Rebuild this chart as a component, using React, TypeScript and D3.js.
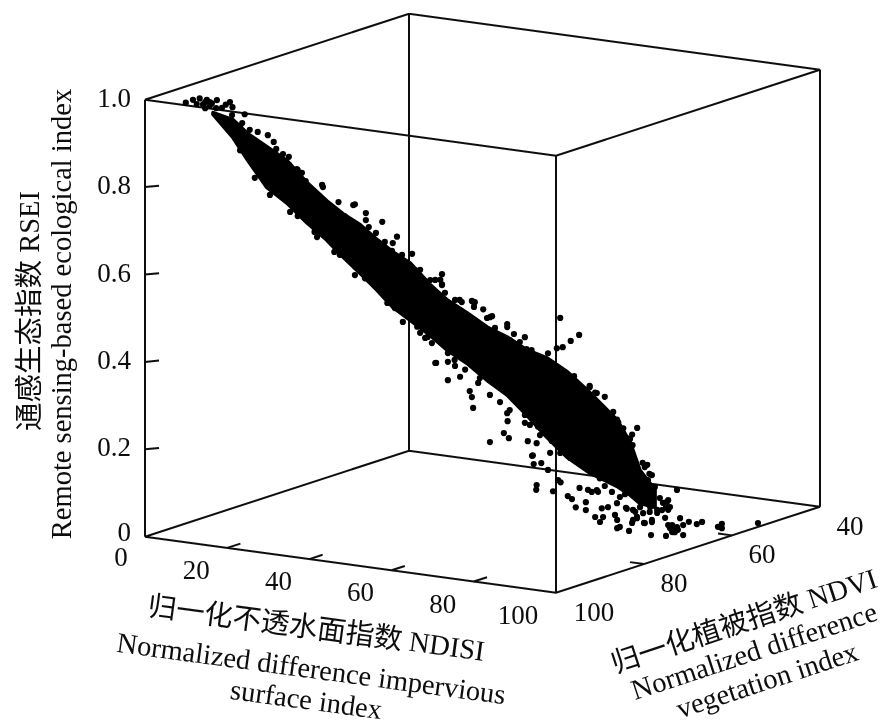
import React from "react";
import * as d3 from "d3";

// Axis ticks and labels
const ndisiTicks = [0, 20, 40, 60, 80, 100];
const ndviTicks = [100, 80, 60, 40];
const rseiTicks = [0, 0.2, 0.4, 0.6, 0.8, 1.0];
const rseiLabels = ["0", "0.2", "0.4", "0.6", "0.8", "1.0"];

// Dense core of the cloud (solid black in the picture): RSEI limits read at NDISI stations
const coreNdisi = [10.8, 13.9, 16.3, 19.3, 22.5, 25.7, 28.8, 31.4, 34.1, 36.8, 39.3, 42.0, 45.2, 47.9, 51.0, 54.2, 57.4, 60.5, 63.7, 66.9, 70.5, 74.8, 76.9, 78.4, 80.8];
const coreNdvi = [94.6, 93.05, 91.85, 90.35, 88.75, 87.15, 85.6, 84.3, 82.95, 81.6, 80.35, 79.0, 77.4, 76.05, 74.5, 72.9, 71.3, 69.75, 68.15, 66.55, 64.75, 62.6, 61.55, 60.8, 59.6];
const coreUpper = [0.966, 0.949, 0.916, 0.885, 0.852, 0.8, 0.758, 0.727, 0.701, 0.666, 0.637, 0.611, 0.56, 0.524, 0.494, 0.46, 0.436, 0.405, 0.386, 0.353, 0.304, 0.24, 0.187, 0.124, 0.078];
const coreLower = [0.963, 0.91, 0.856, 0.793, 0.756, 0.709, 0.669, 0.629, 0.591, 0.551, 0.511, 0.481, 0.445, 0.41, 0.379, 0.339, 0.304, 0.257, 0.205, 0.158, 0.121, 0.089, 0.068, 0.049, 0.039];

// Individually visible points on the fringe of the cloud: [NDISI, NDVI, RSEI]
const fringePoints: [number, number, number][] = [
  [6.5,96.8,.991],[8.7,95.7,1.0],[9.8,95.1,.996],[11.4,94.3,.995],[13.5,93.3,.99],[13.9,93.1,.978],[13.8,93.1,.96],[15.8,92.1,.961],
  [15.4,92.3,.941],[16.6,91.7,.925],[17.9,91.1,.92],[19.5,90.3,.912],[20.4,89.8,.896],[20.8,89.6,.88],[21.9,89.1,.868],[22.8,88.6,.861],
  [22.8,88.6,.843],[24.2,87.9,.83],[25.5,87.3,.805],[28.2,85.9,.79],[30.7,84.7,.755],[33.3,83.4,.749],[35,82.5,.728],[35,82.5,.712],
  [37.6,81.2,.707],[35.5,82.3,.696],[39.9,80,.672],[36.6,81.7,.682],[12.2,93.9,.977],[7.6,96.2,.997],[10.6,94.7,.988],[12.8,93.6,.984],
  [38.4,80.8,.521],[40.9,79.6,.477],[46,77,.381],[48,76,.341],[51.5,74.3,.315],[51.8,74.1,.301],[52,74,.276],[54.7,72.7,.305],
  [56.3,71.9,.288],[57.4,71.3,.262],[57.5,71.3,.244],[56.9,71.6,.217],[57.7,71.2,.205],[54.7,72.7,.197],[60.7,69.7,.197],[62.1,69,.192],
  [61.5,69.3,.164],[64.2,67.9,.169],[61.6,69.2,.144],[62.8,68.6,.146],[63.9,68.1,.13],[65.5,67.3,.106],[62.1,69,.096],[62,69,.085],
  [64.7,67.7,.081],[67,66.5,.069],[67.7,66.2,.062],[68.9,65.6,.087],[68.3,65.9,.043],[69.9,65.1,.054],[69.9,65.1,.036],[70.2,64.9,.082],
  [71.6,64.2,.081],
  [65.8,67.1,.477],[68.8,65.6,.437],[67.5,66.3,.424],[66.2,66.9,.41],[63.9,68.1,.397],[65.3,67.4,.408],[57.4,71.3,.466],[58.5,70.8,.443],
  [60.2,69.9,.435],[52,74,.519],[53.6,73.2,.501],[54.7,72.7,.483],[47.1,76.5,.561],[60.5,69.8,.408],[61.3,69.4,.405],[62.6,68.7,.382],
  [68,66,.343],[70.5,64.8,.317],[71.6,64.2,.303],[72.9,63.6,.294],[72.1,64,.271],[74.2,62.9,.259],[74.8,62.6,.241],[78,61,.221],
  [77.2,61.4,.206],[75.8,62.1,.221],[77.3,61.4,.182],[78.9,60.6,.141],[79.6,60.2,.136],[79.9,60,.115],[80.8,59.6,.085],[76.5,61.8,.198],[75,62.5,.235],
  [15.1,92.5,.879],[17.4,91.3,.815],[19.8,90.1,.775],[23,88.5,.735],[26.9,86.6,.688],[30.9,84.6,.634],[34.9,82.6,.579],[39.6,80.2,.509],
  [44.4,77.8,.439],[49.1,75.5,.387],[53.1,73.5,.344],[57.8,71.1,.269],[62.6,68.7,.21],[67.4,66.3,.156],[72.1,64,.108],[76.1,62,.07],
  [15.1,92.5,.934],[18.5,90.8,.883],[24.6,87.7,.808],[27.7,86.2,.765],[31.7,84.2,.722],[35.7,82.2,.671],[38.8,80.6,.631],[42.8,78.6,.595],
  [46,77,.571],[49.9,75.1,.524],[55.5,72.3,.458],[57.8,71.1,.429],[61.8,69.1,.394],[66.6,66.7,.339],[70.5,64.8,.299],
  [8.2,95.9,.987],[9.5,95.2,.991],[10.3,94.9,.991],[9.5,95.2,.977],[10.3,94.9,.982],[11.3,94.4,.977],[9.2,95.4,.986],
  [24.1,88,.833],[24.9,87.6,.824],[26.8,86.6,.779],[28.1,86,.795],[33,83.5,.747],[27.3,86.4,.676],[30,85,.641],[24.2,87.9,.725],
  [38,81,.661],[39.3,80.4,.658],[39.1,80.4,.64],[40.7,79.6,.63],[42.3,78.8,.632],[43.6,78.2,.595],[45.2,77.4,.571],[47.1,76.5,.584],
  [46.8,76.6,.571],[47.1,76.5,.559],[47.5,76.2,.541],[49.1,75.4,.524],[50.2,74.9,.519],[51.8,74.1,.521],[52.3,73.9,.518],[52.1,73.9,.507],
  [55,72.5,.485],[54.2,72.9,.481],[57.4,71.3,.459],[59.4,70.3,.424],[33.3,83.4,.587],[43.1,78.4,.465],[43.6,78.2,.451],[44.8,77.6,.441],
  [45.5,77.3,.427],[48,76,.403],[48,76,.383],[46.1,76.9,.381],[49.1,75.4,.373],[49.9,75,.348],[50.7,74.6,.364],[52.8,73.6,.333],
  [67.8,66.1,.327],[70.5,64.8,.32],[71.3,64.3,.304],[70.5,64.8,.283],[76.9,61.6,.196],[79.2,60.4,.131],[80.3,59.8,.112],[80.5,59.7,.083],
  [60.2,69.9,.257],[60.2,69.9,.239],[61,69.5,.234],[62.3,68.9,.23],[63.1,68.5,.215],[64.5,67.8,.196],[61.3,69.3,.163],[65.8,67.1,.168],
  [65.9,67.1,.101],[70.8,64.6,.077],[71.8,64.1,.077],[74,63,.076],[72.9,63.6,.09],[75.3,62.4,.064],[74.8,62.6,.05],
];

// Scattered low-RSEI points at the high-NDISI end: [NDISI, NDVI, RSEI]
const tailPoints: [number, number, number][] = [
  [97,88.3,.131],[97,87.2,.116],[97,86.8,.146],[97,85.4,.144],[97,83.8,.121],[97,83.3,.108],[97,82.7,.09],[97,83.3,.089],
  [97,80.6,.074],[97,81.3,.129],[97,79.7,.096],[97,78.8,.1],[97,77.2,.081],[97,75.6,.048],[97,75.4,.077],[97,72.2,.035],
  [97,71.3,.05],[97,70.6,.048],[97,69.7,.047],[97,70.2,.037],[97,68.3,.024],[97,69,.065],[97,67,.05],[97,65.2,.039],
  [97,64,.04],[97,60.4,.017],[97,59.5,.011],[97,59.5,.021],[100,54.1,.009],[97,77.4,.104],[97,75.9,.102],[97,78.1,.12],
  [97,79.7,.119],[97,72.9,.113],[97,71.3,.098],[97,72.4,.077],[97,74.2,.094],[97,70.8,.055],[97,71.7,.115],[97,73.6,.126],
  [97,72.2,.101],[97,69.5,.04],[97,70.8,.039],[97,69.7,.132],[97,72,.112],[97,76.3,.176],[97,76.3,.13],
  [97,86.5,.125],[97,81.1,.126],[97,79.2,.113],[97,78.8,.097],[97,79.9,.09],[97,77,.08],[97,75.4,.082],[97,74.2,.101],
  [97,75.8,.113],[97,68.3,.047],[97,71.7,.058],[97,73.1,.097],[97,71.7,.093],
];

const xTitle = ["归一化不透水面指数 NDISI", "Normalized difference impervious", "surface index"];
const yTitle = ["通感生态指数 RSEI", "Remote sensing-based ecological index"];
const vTitle = ["归一化植被指数 NDVI", "Normalized difference", "vegetation index"];

// Oblique 3D axes: each data axis is a d3 scale onto its pixel offset
const xToPx = d3.scaleLinear().domain([0, 100]).range([0, 411]);
const xToPy = d3.scaleLinear().domain([0, 100]).range([0, 56]);
const vToPx = d3.scaleLinear().domain([100, 40]).range([0, 264]);
const vToPy = d3.scaleLinear().domain([100, 40]).range([0, -86]);
const zToPy = d3.scaleLinear().domain([0, 1]).range([0, -437]);
const ORIGIN = [145, 536.7];
const project = (x: number, v: number, z: number): [number, number] => [
  ORIGIN[0] + xToPx(x) + vToPx(v),
  ORIGIN[1] + xToPy(x) + vToPy(v) + zToPy(z),
];

const FONT = "'Liberation Serif', 'Times New Roman', serif";
const CJK = "'Liberation Serif', 'Noto Sans CJK SC', serif";
const INK = "#0c0c0c";

export default function App() {
  const box: [number, number, number][][] = [
    [[0,100,0],[100,100,0],[100,40,0],[0,40,0],[0,100,0]],
    [[0,100,1],[100,100,1],[100,40,1],[0,40,1],[0,100,1]],
    [[0,100,0],[0,100,1]], [[100,100,0],[100,100,1]], [[100,40,0],[100,40,1]], [[0,40,0],[0,40,1]],
  ];
  const line = d3.line<[number, number, number]>()
    .x((d) => project(d[0], d[1], d[2])[0])
    .y((d) => project(d[0], d[1], d[2])[1]);
  const core = d3.area<number>()
    .x0((i) => project(coreNdisi[i], coreNdvi[i], coreUpper[i])[0])
    .y0((i) => project(coreNdisi[i], coreNdvi[i], coreUpper[i])[1])
    .x1((i) => project(coreNdisi[i], coreNdvi[i], coreLower[i])[0])
    .y1((i) => project(coreNdisi[i], coreNdvi[i], coreLower[i])[1]);
  const points = [...fringePoints, ...tailPoints];
  const seg = (a: [number, number], b: [number, number], k: string | number) => (
    <line key={k} x1={a[0]} y1={a[1]} x2={b[0]} y2={b[1]} stroke={INK} strokeWidth={2} />
  );
  const xDx = (t: number) => (t === 100 ? -38 : t === 0 ? -24 : -31);
  const vDx = (t: number) => (t === 100 ? 38 : 30);

  return (
    <svg width={887} height={724} style={{ position: "absolute", left: 0, top: 0, background: "#fff" }}>
      <defs>
        <filter id="soft" x="0" y="0" width="100%" height="100%">
          <feGaussianBlur stdDeviation="0.4" />
        </filter>
      </defs>
      <g filter="url(#soft)">
        {box.map((b, i) => (
          <path key={i} d={line(b) ?? ""} fill="none" stroke={INK} strokeWidth={2} strokeLinejoin="miter" />
        ))}
        {ndisiTicks.slice(1, 5).map((t) => seg(project(t, 100, 0), project(t, 97, 0), "x" + t))}
        {ndviTicks.slice(1, 3).map((t) => seg(project(100, t, 0), project(96.6, t, 0), "v" + t))}
        {rseiTicks.slice(1, 5).map((t) => seg(project(0, 100, t), project(1.7, 98.4, t), "z" + t))}

        <path d={core(d3.range(coreNdisi.length)) ?? ""} fill="#000" stroke="#000" strokeWidth={4} strokeLinejoin="round" />
        {points.map((p, i) => {
          const [cx, cy] = project(p[0], p[1], p[2]);
          return <circle key={i} cx={cx} cy={cy} r={3.1} fill="#000" />;
        })}

        <g fontFamily={FONT} fontSize={27} fill={INK}>
          {rseiTicks.map((t, i) => {
            const [px, py] = project(0, 100, t);
            return <text key={t} x={px - 14} y={py + (t === 0 ? 4 : 7)} textAnchor="end">{rseiLabels[i]}</text>;
          })}
          {ndisiTicks.map((t) => {
            const [px, py] = project(t, 100, 0);
            return <text key={t} x={px + xDx(t)} y={py + (t === 0 ? 29 : 31)} textAnchor="middle">{t}</text>;
          })}
          {ndviTicks.map((t) => {
            const [px, py] = project(100, t, 0);
            return <text key={t} x={px + vDx(t)} y={py + 28} textAnchor="middle">{t}</text>;
          })}
        </g>

        <g fontFamily={CJK} fontSize={28.5} fill={INK} textAnchor="middle">
          <text transform="translate(39,311) rotate(-90)">{yTitle[0]}</text>
          <text transform="translate(71,314) rotate(-90)">{yTitle[1]}</text>
          <text transform="translate(315,638) rotate(7.7)">{xTitle[0]}</text>
          <text transform="translate(310,678) rotate(7.7)">{xTitle[1]}</text>
          <text transform="translate(305,709) rotate(7.7)">{xTitle[2]}</text>
          <text transform="translate(747,630) rotate(-18.2)">{vTitle[0]}</text>
          <text transform="translate(757,660) rotate(-18.2)">{vTitle[1]}</text>
          <text transform="translate(770,689) rotate(-18.2)">{vTitle[2]}</text>
        </g>
      </g>
    </svg>
  );
}
